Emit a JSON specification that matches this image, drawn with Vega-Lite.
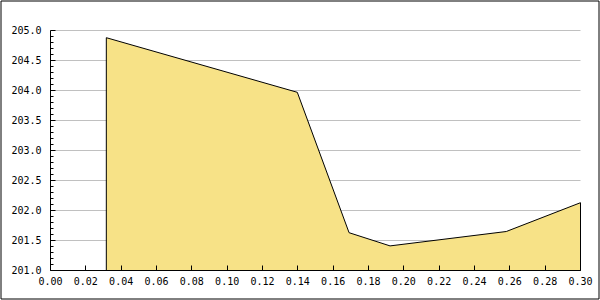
{
  "$schema": "https://vega.github.io/schema/vega-lite/v6.json",
  "width": 598,
  "height": 298,
  "autosize": {"type": "none"},
  "padding": {"left": 0.5, "top": 0.5, "right": 1.5, "bottom": 1.5},
  "background": "white",
  "config": {
    "view": {"stroke": "black", "strokeWidth": 1},
    "axis": {
      "translate": 0,
      "labelFont": "DejaVu Sans Mono",
      "labelFontSize": 10,
      "labelColor": "black",
      "domainColor": "black",
      "domainWidth": 1,
      "tickColor": "black",
      "tickWidth": 1,
      "title": null
    }
  },
  "data": {
    "values": [
      {"x": 0.0316, "y": 204.88},
      {"x": 0.1397, "y": 203.97},
      {"x": 0.169, "y": 201.63},
      {"x": 0.1922, "y": 201.41},
      {"x": 0.258, "y": 201.65},
      {"x": 0.3, "y": 202.13}
    ]
  },
  "layer": [
    {
      "mark": {"type": "area", "color": "#F7E287", "fillOpacity": 1, "stroke": "black", "strokeWidth": 1},
      "encoding": {
        "x": {
          "field": "x",
          "type": "quantitative",
          "scale": {"domain": [0, 0.3], "range": [50, 580], "nice": false, "zero": false},
          "axis": {
            "orient": "bottom",
            "offset": -28,
            "values": [0, 0.02, 0.04, 0.06, 0.08, 0.1, 0.12, 0.14, 0.16, 0.18, 0.2, 0.22, 0.24, 0.26, 0.28, 0.3],
            "format": ".2f",
            "tickSize": -5,
            "labelPadding": 11,
            "grid": false,
            "zindex": 1,
            "labelFlush": false,
            "labelOverlap": false
          }
        },
        "y": {
          "field": "y",
          "type": "quantitative",
          "scale": {"domain": [201, 205], "range": [270, 30], "nice": false, "zero": false},
          "axis": {
            "orient": "left",
            "offset": -50,
            "values": [201, 201.5, 202, 202.5, 203, 203.5, 204, 204.5, 205],
            "format": ".1f",
            "tickSize": -5,
            "labelPadding": 14,
            "grid": true,
            "gridColor": "#C0C0C0",
            "gridWidth": 1,
            "zindex": 0,
            "labelOverlap": false
          }
        },
        "y2": {"datum": 201}
      }
    },
    {
      "mark": {"type": "rule", "opacity": 0},
      "encoding": {
        "y": {
          "field": "y",
          "type": "quantitative",
          "axis": {
            "orient": "left",
            "offset": -50,
            "values": [201.1, 201.2, 201.3, 201.4, 201.6, 201.7, 201.8, 201.9, 202.1, 202.2, 202.3, 202.4, 202.6, 202.7, 202.8, 202.9, 203.1, 203.2, 203.3, 203.4, 203.6, 203.7, 203.8, 203.9, 204.1, 204.2, 204.3, 204.4, 204.6, 204.7, 204.8, 204.9],
            "tickSize": -3,
            "labels": false,
            "domain": false,
            "grid": false,
            "zindex": 1
          }
        }
      }
    }
  ],
  "resolve": {"axis": {"y": "independent"}}
}
